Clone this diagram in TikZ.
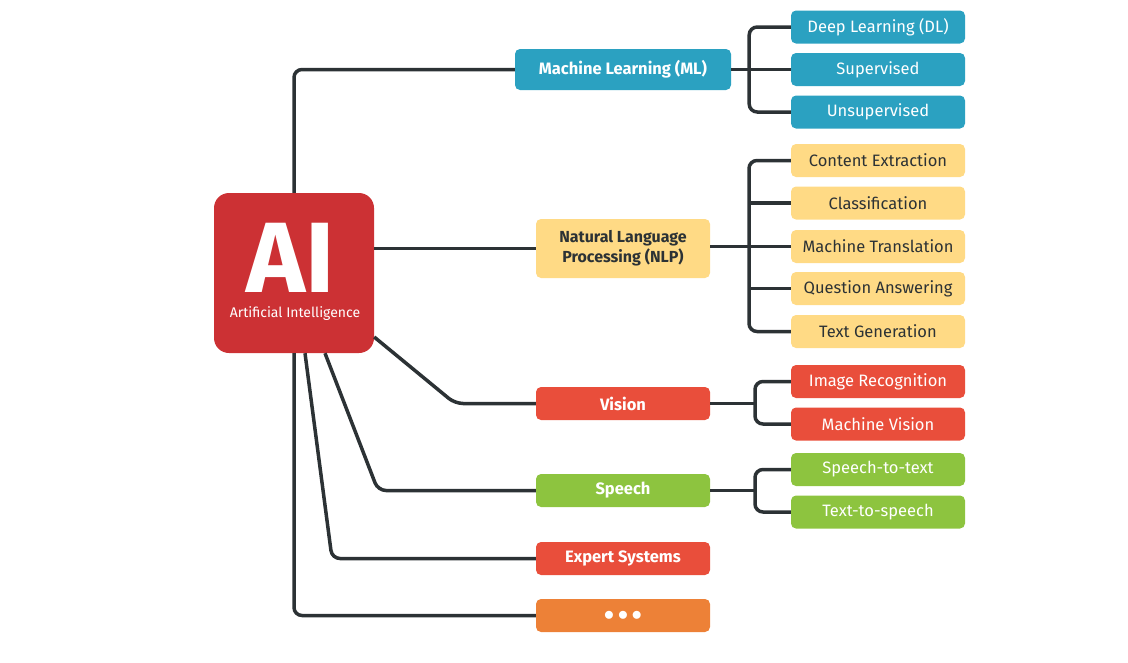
\documentclass[tikz,border=0pt]{standalone}
\usepackage{fontspec}
\setmainfont{Fira Sans}
\usetikzlibrary{calc}

\definecolor{aired}{HTML}{CC3134}
\definecolor{mlblue}{HTML}{2BA1C1}
\definecolor{nlpyellow}{HTML}{FFDA85}
\definecolor{visred}{HTML}{E94E3B}
\definecolor{spgreen}{HTML}{8DC43F}
\definecolor{moreorange}{HTML}{ED8137}
\definecolor{linkgray}{HTML}{2C3235}

\tikzset{
  topic/.style={rounded corners=5pt, minimum width=174pt, minimum height=33pt, inner sep=0pt,
    text=white, font=\fontsize{16.5}{19}\selectfont\bfseries, align=center},
  leaf/.style={topic, font=\fontsize{16.5}{19}\selectfont},
  link/.style={draw=linkgray, line width=3.5pt, rounded corners=8pt}
}

\begin{document}
\begin{tikzpicture}[x=1pt,y=-1pt]
    \useasboundingbox (0,0) rectangle (1128,662);
    % centre
    \node[fill=aired, rounded corners=15pt, minimum width=160pt, minimum height=160pt] (ai) at (294,273) {};
    \node[text=white, font=\fontsize{100}{100}\selectfont\bfseries, inner sep=0pt, anchor=base] (aititle) at (291,292) {AI};
    \node[text=white, font=\fontsize{14}{16}\selectfont, inner sep=0pt, anchor=base] (aisub) at (295,317) {Artificial Intelligence};

    % main branches
    \node[topic, fill=mlblue, minimum width=216pt, minimum height=41pt] (ml) at (623,69.5) {Machine Learning (ML)};
    \node[topic, fill=nlpyellow, text=linkgray, minimum height=59pt, font=\fontsize{16}{20}\selectfont\bfseries] (nlp) at (623,248.5) {Natural Language\\Processing (NLP)};
    \node[topic, fill=visred] (vis) at (623,403.5) {Vision};
    \node[topic, fill=spgreen] (sp) at (623,490.5) {Speech};
    \node[topic, fill=visred] (exp) at (623,558.5) {Expert Systems};
    \node[topic, fill=moreorange, font=\fontsize{21}{21}\selectfont] (more) at (623,615.5) {${\bullet}\,{\bullet}\,{\bullet}$};

    % leaves
    \node[leaf, fill=mlblue] (dl) at (878,27) {Deep Learning (DL)};
    \node[leaf, fill=mlblue] (sup) at (878,69.5) {Supervised};
    \node[leaf, fill=mlblue] (unsup) at (878,112) {Unsupervised};
    \node[leaf, fill=nlpyellow, text=linkgray] (ce) at (878,160.5) {Content Extraction};
    \node[leaf, fill=nlpyellow, text=linkgray] (cls) at (878,203) {Classification};
    \node[leaf, fill=nlpyellow, text=linkgray] (mt) at (878,246.5) {Machine Translation};
    \node[leaf, fill=nlpyellow, text=linkgray] (qa) at (878,288.5) {Question Answering};
    \node[leaf, fill=nlpyellow, text=linkgray] (tg) at (878,331.5) {Text Generation};
    \node[leaf, fill=visred] (ir) at (878,381.5) {Image Recognition};
    \node[leaf, fill=visred] (mv) at (878,424) {Machine Vision};
    \node[leaf, fill=spgreen] (stt) at (878,469.5) {Speech-to-text};
    \node[leaf, fill=spgreen] (tts) at (878,512) {Text-to-speech};

    % bends
    \coordinate (visbend) at (455,403.5);
    \coordinate (spbend) at (378,490.5);
    \coordinate (expbend) at (332,558.5);
    \coordinate (nlpjoin) at (749,246.5);
    \coordinate (visjoin) at (755,403.5);
    \coordinate (spjoin) at (755,490.5);

    % links from the centre
    \draw[link] (ai.north) |- (ml.west);
    \draw[link] (ai.east |- nlp.west) -- (nlp.west);
    \draw[link] ($(ai.east)+(0,64)$) -- (visbend) -- (vis.west);
    \draw[link] ($(ai.south)+(31,0)$) -- (spbend) -- (sp.west);
    \draw[link] ($(ai.south)+(11,0)$) -- (expbend) -- (exp.west);
    \draw[link] (ai.south) |- (more.west);

    % links to the leaves
    \draw[link] (dl.west) -| ([xshift=18pt]ml.east) |- (unsup.west);
    \draw[link] (ml.east) -- (sup.west);
    \draw[link] (ce.west) -| (nlpjoin) |- (tg.west);
    \draw[link] (nlp.east |- mt.west) -- (mt.west);
    \draw[link] (cls.west) -- (cls.west -| nlpjoin);
    \draw[link] (qa.west) -- (qa.west -| nlpjoin);
    \draw[link] (ir.west) -| (visjoin) |- (mv.west);
    \draw[link] (vis.east) -- (visjoin);
    \draw[link] (stt.west) -| (spjoin) |- (tts.west);
    \draw[link] (sp.east) -- (spjoin);
\end{tikzpicture}
\end{document}
